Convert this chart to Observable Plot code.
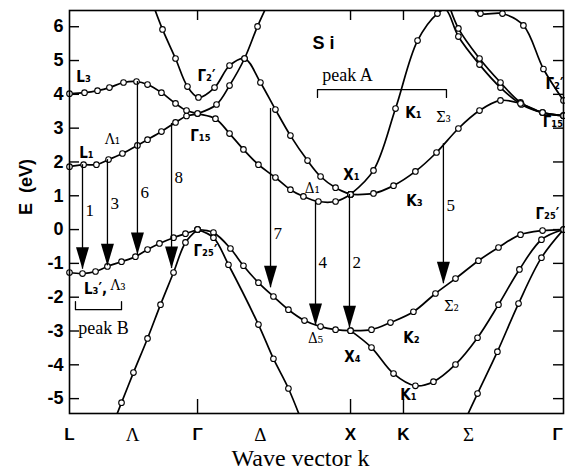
<!DOCTYPE html>
<html><head><meta charset="utf-8">
<script src="https://cdn.jsdelivr.net/npm/d3@7"></script>
<script src="https://cdn.jsdelivr.net/npm/@observablehq/plot@0.6"></script>
<style>body{margin:0;background:#fff}</style>
</head><body><div id="chart"></div>
<script>
// symmetry points along the path (k in units of the Γ–X distance)
const kTicks = [0, 0.412, 0.837, 1.248, 1.837, 2.183, 2.608, 3.229];
const kLabels = ["L", "Λ", "Γ", "Δ", "X", "K", "Σ", "Γ"];
const symTicks = [0.837, 1.837, 2.183];
const eTicks = [-5, -4, -3, -2, -1, 0, 1, 2, 3, 4, 5, 6];
const eDomain = [-5.44, 6.48];

// valence bands [k, E(eV)]
const vbLambda3 = [[0,-1.27],[0.085,-1.30],[0.170,-1.24],[0.248,-1.09],[0.340,-0.95],[0.431,-0.80],[0.510,-0.59],[0.588,-0.41],[0.680,-0.24],[0.758,-0.12],[0.837,0]];
const vbLambda1 = [[0.242,-6.24],[0.340,-5.12],[0.418,-4.23],[0.510,-3.22],[0.595,-2.22],[0.680,-1.27],[0.758,-0.38],[0.837,0]];
const vbDelta5 = [[0.837,0],[0.941,-0.09],[1.052,-0.56],[1.137,-1.07],[1.235,-1.57],[1.333,-1.98],[1.431,-2.37],[1.536,-2.69],[1.641,-2.87],[1.739,-2.96],[1.837,-2.99],[1.974,-2.96],[2.098,-2.75],[2.248,-2.43],[2.392,-1.89],[2.523,-1.45],[2.673,-0.92],[2.804,-0.53],[2.948,-0.15],[3.092,-0.03],[3.229,0]];
const vbDelta2 = [[0.837,0],[0.941,-0.24],[1.039,-1.04],[1.235,-2.81],[1.333,-3.82],[1.431,-4.70],[1.529,-5.80]];
const vbK1 = [[1.837,-2.99],[1.974,-3.49],[2.118,-4.26],[2.261,-4.62],[2.379,-4.50],[2.523,-3.99],[2.667,-3.20],[2.804,-2.22],[2.941,-1.18],[3.085,-0.30],[3.229,0]];
const vbSigma1 = [[2.569,-5.80],[2.667,-4.85],[2.797,-3.61],[2.935,-2.19],[3.085,-0.83],[3.229,0]];

// conduction bands [k, E(eV)]
const cbL3 = [[0,4.02],[0.098,4.05],[0.183,4.11],[0.261,4.20],[0.353,4.35],[0.438,4.38],[0.510,4.29],[0.601,4.05],[0.693,3.73],[0.765,3.52],[0.837,3.43],[0.954,3.28],[1.046,2.84],[1.137,2.37],[1.235,1.92],[1.346,1.54],[1.444,1.18],[1.529,0.98],[1.627,0.83],[1.739,0.83],[1.837,1.04]];
const cbL1 = [[0,1.86],[0.092,1.92],[0.176,1.92],[0.255,2.07],[0.346,2.25],[0.444,2.49],[0.510,2.66],[0.601,2.90],[0.693,3.17],[0.765,3.36],[0.837,3.43],[0.961,3.70],[1.046,4.26],[1.144,5.06],[1.229,6.01],[1.307,6.78]];
const cbGamma2 = [[0.536,6.78],[0.608,5.92],[0.693,5.06],[0.771,4.23],[0.843,3.91],[0.948,4.20],[1.046,4.85],[1.144,5.06],[1.248,4.35],[1.346,3.55],[1.444,2.78],[1.556,2.04],[1.641,1.57],[1.739,1.24],[1.837,1.04]];
const cbK1 = [[1.837,1.04],[1.987,1.75],[2.131,3.58],[2.275,5.59],[2.405,6.39],[2.458,6.51],[2.542,5.71],[2.680,4.88],[2.817,4.20],[2.954,3.70],[3.092,3.46],[3.229,3.37]];
const cbUpper = [[2.471,6.78],[2.542,5.95],[2.680,5.06],[2.817,4.35],[2.948,3.76],[3.092,3.46],[3.229,3.37]];
const cbSigma3 = [[1.837,1.04],[1.987,1.07],[2.118,1.30],[2.261,1.72],[2.399,2.28],[2.542,2.99],[2.680,3.52],[2.817,3.82],[2.948,3.73],[3.092,3.46],[3.229,3.37]];
const cbTopRight = [[2.588,6.72],[2.686,6.39],[2.830,6.39],[2.967,6.04],[3.098,4.75],[3.229,3.82]];

// optical transitions
const arrowLabels = ["1", "3", "6", "8", "7", "4", "2", "5"];
const arrowK = [0.085, 0.248, 0.444, 0.667, 1.314, 1.608, 1.830, 2.444];
const arrowFrom = [1.92, 2.07, 4.38, 3.14, 3.58, 0.83, 1.04, 2.54];
const arrowTo = [-1.17, -1.07, -0.74, -1.15, -1.72, -2.84, -2.90, -1.60];
const arrowLabelE = [0.56, 0.77, 1.09, 1.54, -0.12, -0.98, -0.98, 0.71];

// point labels
const sansLabels = ["L₃", "Γ₂′", "L₁", "Γ₁₅", "K₁", "Γ₁₅", "Γ₂′", "X₁", "K₃", "Γ₂₅′", "Γ₂₅′", "L₃′,", "X₄", "K₂", "K₁"];
const sansK = [0.092, 0.895, 0.111, 0.856, 2.248, 3.160, 3.170, 1.843, 2.255, 3.124, 0.889, 0.170, 1.850, 2.235, 2.216];
const sansE = [4.50, 4.53, 2.25, 2.75, 3.43, 3.17, 4.29, 1.60, 0.83, 0.47, -0.65, -1.77, -3.76, -3.20, -4.91];
const serifLabels = ["Λ₁", "Σ₃", "Δ₁", "Λ₃", "Δ₅", "Σ₂"];
const serifK = [0.281, 2.444, 1.588, 0.318, 1.608, 2.497];
const serifE = [2.66, 3.31, 1.21, -1.63, -3.22, -2.28];

// peak brackets
const peakNames = ["peak A", "peak B"];
const peakK1 = [1.621, 0.039];
const peakK2 = [2.464, 0.340];
const peakE = [4.14, -2.37];
const peakEndE = [3.91, -2.13];
const peakTextK = [1.817, 0.222];
const peakTextE = [4.56, -2.93];

const bandSets = {vbLambda3, vbLambda1, vbDelta5, vbDelta2, vbK1, vbSigma1, cbL3, cbL1, cbGamma2, cbK1, cbUpper, cbSigma3, cbTopRight};
const rows = Object.entries(bandSets).flatMap(([band, pts]) => pts.map(([k, E]) => ({band, k, E})));
const dotRows = rows.filter(d => d.E >= eDomain[0] && d.E <= eDomain[1]);
const arrows = arrowK.map((k, i) => ({k, from: arrowFrom[i], to: arrowTo[i], label: arrowLabels[i], le: arrowLabelE[i]}));
const sansTxt = sansLabels.map((t, i) => ({t, k: sansK[i], E: sansE[i]}));
const serifTxt = serifLabels.map((t, i) => ({t, k: serifK[i], E: serifE[i]}));
const brackets = peakNames.flatMap((n, i) => [
  {id: n, k: peakK1[i], E: peakEndE[i]}, {id: n, k: peakK1[i], E: peakE[i]},
  {id: n, k: peakK2[i], E: peakE[i]}, {id: n, k: peakK2[i], E: peakEndE[i]}]);
const peakTxt = peakNames.map((t, i) => ({t, k: peakTextK[i], E: peakTextE[i]}));

const arrowHead = {draw(ctx) { ctx.moveTo(0, 0); ctx.lineTo(-6.5, -22); ctx.lineTo(6.5, -22); ctx.closePath(); }};
const sans = "Liberation Sans, Arial, sans-serif";
const serif = "Liberation Serif, Times New Roman, serif";
const lblSans = "DejaVu Sans Condensed, DejaVu Sans, sans-serif";
const lblSerif = "DejaVu Serif Condensed, DejaVu Serif, serif";
const idx = kLabels.map((l, i) => i);
const sansIdx = idx.filter(i => !"ΛΔΣ".includes(kLabels[i]) && i < kLabels.length - 1);
const serifIdx = idx.filter(i => "ΛΔΣ".includes(kLabels[i]));
const lastIdx = [kLabels.length - 1];
const fmtK = d => kLabels[kTicks.indexOf(d)];

const chart = Plot.plot({
  width: 565, height: 470,
  marginLeft: 69, marginRight: 2, marginTop: 10, marginBottom: 57,
  style: {background: "#fff", color: "#000"},
  x: {domain: [0, 3.229], axis: null},
  y: {domain: eDomain, axis: null},
  marks: [
    Plot.tickY(eTicks, {y: d => d, insetRight: 484, strokeWidth: 1.4}),
    Plot.tickY(eTicks, {y: d => d, insetLeft: 484, strokeWidth: 1.4}),
    Plot.tickX(symTicks, {x: d => d, insetTop: 389, strokeWidth: 1.4}),
    Plot.tickX(symTicks, {x: d => d, insetBottom: 393, strokeWidth: 1.4}),
    Plot.line(rows, {x: "k", y: "E", z: "band", curve: "catmull-rom", stroke: "#000", strokeWidth: 1.7, clip: true}),
    Plot.dot(dotRows, {x: "k", y: "E", r: 2.8, fill: "#fff", stroke: "#000", strokeWidth: 1.1}),
    Plot.ruleX(arrows, {x: "k", y1: "from", y2: "to", stroke: "#000", strokeWidth: 1.3}),
    Plot.dot(arrows, {x: "k", y: "to", symbol: arrowHead, fill: "#000", stroke: "none"}),
    Plot.text(arrows, {x: "k", y: "le", text: "label", dx: 3, textAnchor: "start", fontSize: 17, fontFamily: serif}),
    Plot.line(brackets, {x: "k", y: "E", z: "id", stroke: "#000", strokeWidth: 1.3}),
    Plot.text(peakTxt, {x: "k", y: "E", text: "t", fontSize: 18, fontFamily: serif}),
    Plot.text(sansTxt, {x: "k", y: "E", text: "t", fontSize: 15, fontWeight: "bold", fontFamily: lblSans}),
    Plot.text(serifTxt, {x: "k", y: "E", text: "t", fontSize: 15, fontFamily: lblSerif}),
    Plot.text(["S i"], {x: () => 1.660, y: () => 5.50, text: d => d, fontSize: 18, fontWeight: "bold", fontFamily: sans}),
    Plot.frame({stroke: "#000", strokeWidth: 1.6}),
    Plot.axisY({ticks: eTicks, tickSize: 0, tickPadding: 6, label: null, fontSize: 18, fontWeight: "bold", fontFamily: sans, tickFormat: d => d < 0 ? "-" + (-d) : String(d)}),
    Plot.axisX({ticks: sansIdx.map(i => kTicks[i]), tickFormat: fmtK, tickSize: 0, tickPadding: 14, label: null, fontSize: 17, fontWeight: "bold", fontFamily: sans}),
    Plot.axisX({ticks: lastIdx.map(i => kTicks[i]), tickFormat: fmtK, tickSize: 0, tickPadding: 14, dx: -6, label: null, fontSize: 17, fontWeight: "bold", fontFamily: sans}),
    Plot.axisX({ticks: serifIdx.map(i => kTicks[i]), tickFormat: fmtK, tickSize: 0, tickPadding: 14, label: null, fontSize: 19, fontFamily: serif}),
    Plot.text(["Wave vector k"], {frameAnchor: "bottom", dy: 45, dx: -16, lineAnchor: "middle", fontSize: 24, fontFamily: serif}),
    Plot.text(["E  (eV)"], {frameAnchor: "left", dx: -43, dy: 3, rotate: -90, lineAnchor: "middle", fontSize: 18, fontWeight: "bold", fontFamily: sans})
  ]
});
document.getElementById("chart").appendChild(chart);
</script>
</body></html>
